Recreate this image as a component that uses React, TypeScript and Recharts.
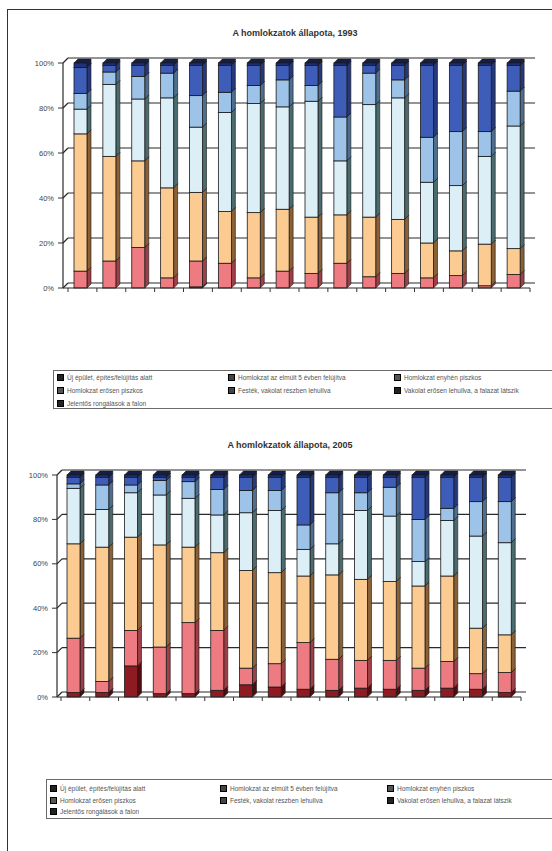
import React from 'react';
import { BarChart, Bar, XAxis, YAxis, CartesianGrid } from 'recharts';

// ---------- data ----------
const categories = ['1', '2', '3', '4', '5', '6', '7', '8', '9', '10', '11', '12', '13', '14', '15', '16'];

const seriesNames = [
  'Új épület, építés/felújítás alatt',
  'Homlokzat az elmúlt 5 évben felújítva',
  'Homlokzat enyhén piszkos',
  'Homlokzat erősen piszkos',
  'Festék, vakolat részben lehullva',
  'Vakolat erősen lehullva, a falazat látszik',
  'Jelentős rongálások a falon',
];

const yTicks = [0, 0.2, 0.4, 0.6, 0.8, 1];

// 1993 (percent of buildings)
const uj1993 = [2, 1, 1, 1, 1, 1, 1, 1, 1, 1, 1, 1, 1, 1, 1, 1];
const felujitott1993 = [11.5, 3, 5, 3.5, 13.5, 12, 9, 6.5, 9, 23, 3.5, 6.5, 32, 29.5, 29.5, 11.5];
const enyhen1993 = [7, 5.5, 10, 11, 14, 9, 8, 12, 7, 19.5, 14, 8, 20, 24, 11, 15.5];
const erosen1993 = [11, 32, 27.5, 40, 29, 44, 48.5, 45.5, 51.5, 24, 50, 54, 27, 29, 39, 54.5];
const festek1993 = [61, 46.5, 38.5, 40, 30.5, 23, 29, 27.5, 25, 21.5, 26.5, 24, 15.5, 11, 18.5, 11.5];
const vakolat1993 = [7.5, 12, 18, 4.5, 11.5, 11, 4.5, 7.5, 6.5, 11, 5, 6.5, 4.5, 5.5, 1, 6];
const rongalas1993 = [0, 0, 0, 0, 0.5, 0, 0, 0, 0, 0, 0, 0, 0, 0, 0, 0];

// 2005
const uj2005 = [1, 1, 1, 1, 1, 1, 1, 1, 1, 1, 1, 1, 1, 1, 1, 1];
const felujitott2005 = [3, 3.5, 3.5, 1.5, 2, 5.5, 6, 6, 21.5, 7, 7, 4.5, 19, 14, 11, 11];
const enyhen2005 = [2, 11, 3.5, 6.5, 7.5, 11.5, 10, 9, 11, 23, 8, 13, 19, 5.5, 15.5, 18.5];
const erosen2005 = [25, 17, 20, 22.5, 22, 17, 26, 28, 12, 14, 31, 29.5, 11, 25, 41.5, 41.5];
const festek2005 = [42.5, 60.5, 42, 46, 34, 35, 44, 41, 30, 38, 36.5, 35.5, 37, 38.5, 20.5, 17];
const vakolat2005 = [24.5, 5, 16, 21, 32, 27, 7.5, 10.5, 21, 14, 12.5, 13, 10, 12, 7, 9];
const rongalas2005 = [2, 2, 14, 1.5, 1.5, 3, 5.5, 4.5, 3.5, 3, 4, 3.5, 3, 4, 3.5, 2];

// ---------- styles ----------
// stacking order bottom -> top
const stackKeys = ['rongalas', 'vakolat', 'festek', 'erosen', 'enyhen', 'felujitott', 'uj'];
const frontColors: Record<string, string> = {
  rongalas: '#8E1B22',
  vakolat: '#EF7B82',
  festek: '#FCCB91',
  erosen: '#DCEFF7',
  enyhen: '#9DC3E8',
  felujitott: '#3E5DB8',
  uj: '#22317A',
};
const sideColors: Record<string, string> = {
  rongalas: '#4F0D12',
  vakolat: '#9E3F45',
  festek: '#8A6036',
  erosen: '#4A6C6E',
  enyhen: '#4D6E8E',
  felujitott: '#25397A',
  uj: '#141E4C',
};
const legendIconColors = ['#222', '#444', '#555', '#555', '#444', '#222', '#222'];

const FONT = '"Liberation Sans", Arial, sans-serif';
const D = 5; // 3D depth of walls
const BARD = 4; // 3D depth of bars

function buildRows(
  uj: number[], fel: number[], eny: number[], ero: number[], fes: number[], vak: number[], ron: number[]
) {
  return categories.map((c, i) => ({
    cat: c,
    uj: uj[i],
    felujitott: fel[i],
    enyhen: eny[i],
    erosen: ero[i],
    festek: fes[i],
    vakolat: vak[i],
    rongalas: ron[i],
  }));
}

const rows1993 = buildRows(uj1993, felujitott1993, enyhen1993, erosen1993, festek1993, vakolat1993, rongalas1993);
const rows2005 = buildRows(uj2005, felujitott2005, enyhen2005, erosen2005, festek2005, vakolat2005, rongalas2005);

function Bar3D(props: any) {
  const { x, y, width, height, fill, side } = props;
  if (height == null || height <= 0.01 || width == null) return null;
  const w = width - BARD;
  return (
    <g>
      <path
        d={`M${x},${y} L${x + BARD},${y - BARD} L${x + w + BARD},${y - BARD} L${x + w},${y} Z`}
        fill={side}
        stroke="#1a1a1a"
        strokeWidth={0.6}
      />
      <path
        d={`M${x + w},${y} L${x + w + BARD},${y - BARD} L${x + w + BARD},${y + height - BARD} L${x + w},${y + height} Z`}
        fill={side}
        stroke="#1a1a1a"
        strokeWidth={0.6}
      />
      <rect x={x} y={y} width={w} height={height} fill={fill} stroke="#1a1a1a" strokeWidth={0.8} />
    </g>
  );
}

function makeGridLine(topY: number, bottomY: number) {
  return (p: any) => {
    const { x1, y1, x2, index } = p;
    const isBottom = Math.abs(y1 - bottomY) < 1;
    const isTop = Math.abs(y1 - topY) < 1;
    return (
      <g key={`g-${index}`}>
        {isBottom && (
          <path
            d={`M${x1},${y1} L${x1 + D},${y1 - D} L${x2 + D},${y1 - D} L${x2},${y1} Z`}
            fill="#c9c9c9"
            stroke="#555"
            strokeWidth={0.8}
          />
        )}
        {isTop && (
          <>
            <line x1={x2 + D} y1={topY - D} x2={x2 + D} y2={bottomY - D} stroke="#666" strokeWidth={1} />
            <line x1={x1 + D} y1={topY - D} x2={x1 + D} y2={bottomY - D} stroke="#999" strokeWidth={0.8} />
          </>
        )}
        <line x1={x1} y1={y1} x2={x1 + D} y2={y1 - D} stroke="#2a2a2a" strokeWidth={1.2} />
        <line x1={x1 + D} y1={y1 - D} x2={x2 + D} y2={y1 - D} stroke="#2a2a2a" strokeWidth={1.2} />
      </g>
    );
  };
}

function makeXTick(band: number) {
  return (p: any) => {
    const { x, y, index } = p;
    return (
      <g>
        {index === 0 && <line x1={x - band / 2} y1={y} x2={x - band / 2} y2={y + 4} stroke="#333" />}
        <line x1={x + band / 2} y1={y} x2={x + band / 2} y2={y + 4} stroke="#333" />
      </g>
    );
  };
}

type ChartProps = {
  rows: any[];
  top: number;
  height: number;
  plotTop: number;
  plotBottom: number;
  plotLeft: number;
  plotRight: number;
  padLeft: number;
};

function StackedChart({ rows, top, height, plotTop, plotBottom, plotLeft, plotRight, padLeft }: ChartProps) {
  const yAxisW = 40;
  const xAxisH = 10;
  const margin = {
    top: plotTop - top,
    bottom: top + height - plotBottom - xAxisH,
    left: plotLeft - yAxisW,
    right: 552 - plotRight,
  };
  const band = (plotRight - plotLeft - padLeft) / categories.length;
  return (
    <div style={{ position: 'absolute', left: 0, top, width: 552, height }}>
      <BarChart width={552} height={height} data={rows} stackOffset="expand" margin={margin}>
        <CartesianGrid
          vertical={false}
          horizontal={makeGridLine(plotTop, plotBottom)}
          stroke="#333"
        />
        <XAxis
          dataKey="cat"
          height={xAxisH}
          padding={{ left: padLeft, right: 0 }}
          axisLine={{ stroke: '#2a2a2a', strokeWidth: 1.2 }}
          tickLine={false}
          tickSize={0}
          tickMargin={0}
          tick={makeXTick(band)}
          interval={0}
        />
        <YAxis
          width={yAxisW}
          domain={[0, 1]}
          ticks={yTicks}
          tickFormatter={(v: number) => `${Math.round(v * 100)}%`}
          axisLine={{ stroke: '#2a2a2a', strokeWidth: 1.2 }}
          tickLine={{ stroke: '#333' }}
          tickSize={5}
          tickMargin={4}
          tick={{ fontSize: 7.5, fill: '#444', fontFamily: FONT }}
          interval={0}
        />
        {stackKeys.map((k) => (
          <Bar
            key={k}
            dataKey={k}
            stackId="a"
            fill={frontColors[k]}
            barSize={17}
            isAnimationActive={false}
            shape={(p: any) => <Bar3D {...p} side={sideColors[k]} />}
          />
        ))}
      </BarChart>
    </div>
  );
}

function LegendBox({ left, top, height, colX, rowY }: { left: number; top: number; height: number; colX: number[]; rowY: number[] }) {
  return (
    <div
      style={{
        position: 'absolute',
        left,
        top,
        width: 600,
        height,
        border: '1.5px solid #6a6a6a',
        boxSizing: 'border-box',
        background: '#fff',
      }}
    >
      {seriesNames.map((name, i) => {
        const col = i % 3;
        const row = Math.floor(i / 3);
        return (
          <div
            key={name}
            style={{
              position: 'absolute',
              left: colX[col],
              top: rowY[row] - 5,
              height: 10,
              display: 'flex',
              alignItems: 'center',
              whiteSpace: 'nowrap',
              fontFamily: FONT,
              fontSize: 6.5,
              color: '#555',
            }}
          >
            <span
              style={{
                display: 'inline-block',
                width: 5,
                height: 5,
                background: legendIconColors[i],
                border: '0.5px solid #000',
                marginRight: 3,
              }}
            />
            {name}
          </div>
        );
      })}
    </div>
  );
}

function Title({ text, cx, cy }: { text: string; cx: number; cy: number }) {
  return (
    <div
      style={{
        position: 'absolute',
        left: cx - 120,
        width: 240,
        top: cy - 6,
        height: 12,
        lineHeight: '12px',
        textAlign: 'center',
        fontFamily: FONT,
        fontWeight: 'bold',
        fontSize: 9,
        color: '#333',
      }}
    >
      {text}
    </div>
  );
}

export default function App() {
  return (
    <div
      style={{
        position: 'absolute',
        left: 0,
        top: 0,
        width: 552,
        height: 851,
        overflow: 'hidden',
        background: '#fff',
      }}
    >
      {/* outer frame */}
      <div style={{ position: 'absolute', left: 7, top: 9, width: 560, height: 860, borderLeft: '1.5px solid #333', borderTop: '1.5px solid #333' }} />

      <Title text="A homlokzatok állapota, 1993" cx={295} cy={33} />
      <StackedChart rows={rows1993} top={20} height={290} plotTop={63} plotBottom={288} plotLeft={63} plotRight={530} padLeft={5} />
      <LegendBox left={53} top={370} height={39} colX={[3, 174, 340]} rowY={[6, 19, 32]} />

      <Title text="A homlokzatok állapota, 2005" cx={290} cy={445} />
      <StackedChart rows={rows2005} top={430} height={290} plotTop={475} plotBottom={697} plotLeft={57} plotRight={521} padLeft={4} />
      <LegendBox left={46} top={779} height={40} colX={[3, 173, 340]} rowY={[8, 20, 31]} />
    </div>
  );
}
